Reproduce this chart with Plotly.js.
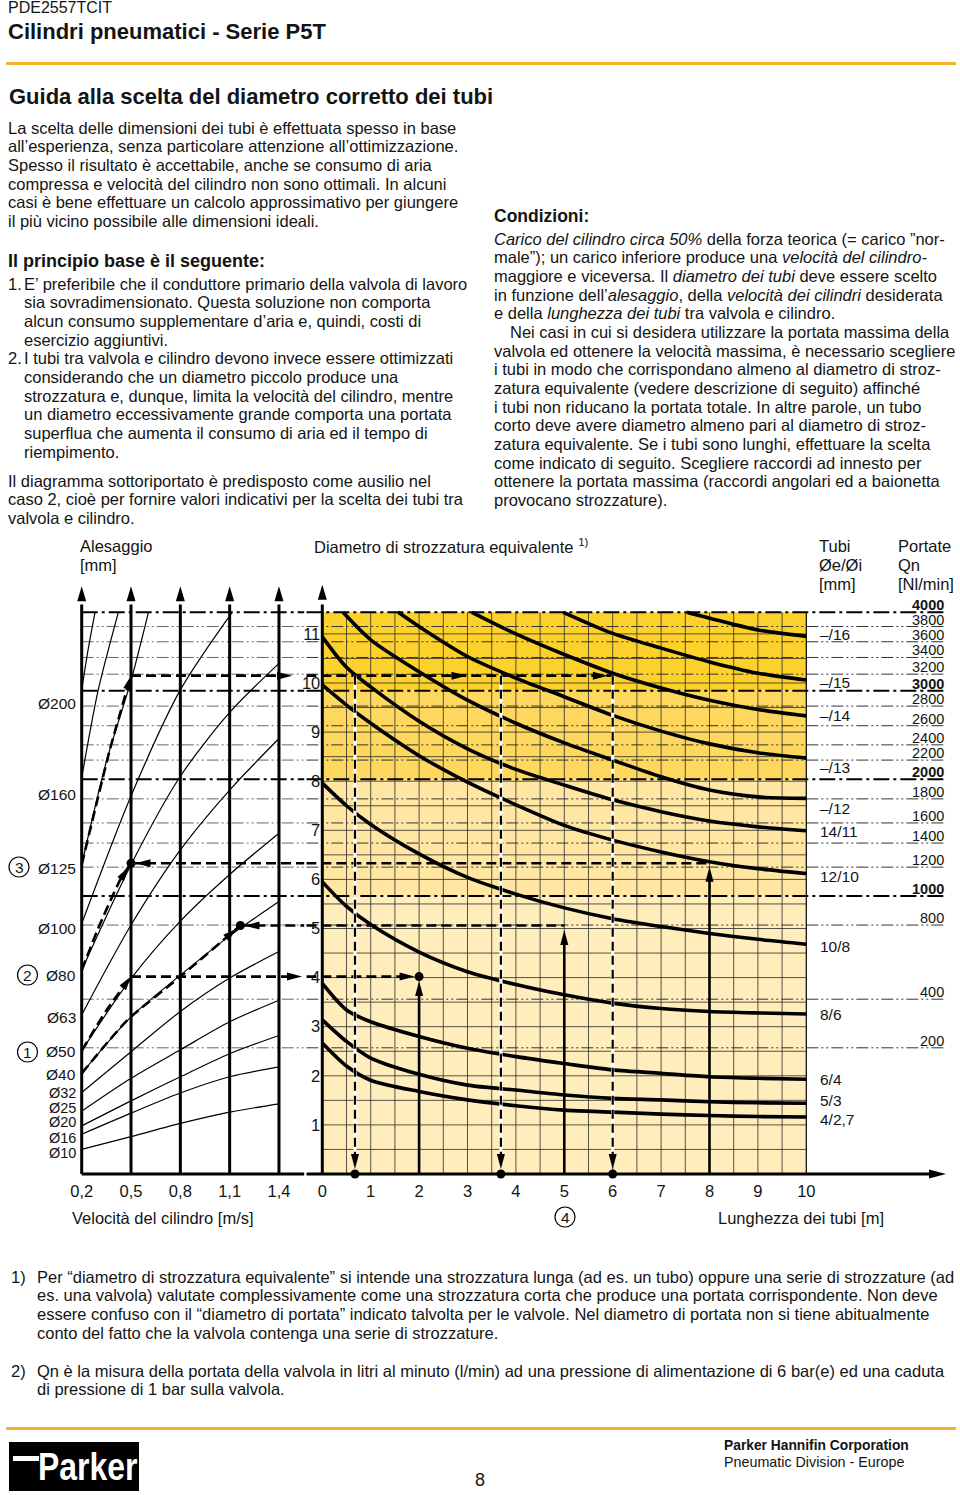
<!DOCTYPE html>
<html lang="it"><head><meta charset="utf-8"><title>Guida alla scelta del diametro corretto dei tubi</title>
<script src="https://cdn.plot.ly/plotly-3.0.1.min.js"></script>
<style>
html,body{margin:0;padding:0;background:#fff}
body{width:960px;height:1495px;position:relative;overflow:hidden;font-family:"Liberation Sans",Arial,Helvetica,sans-serif;color:#141414}
.t{position:absolute;white-space:nowrap;font-size:16.5px;line-height:18.65px}
.b{font-weight:bold}
.rule{position:absolute;left:6px;width:950px;height:3px;background:#F2B22A}
#chart{position:absolute;left:0;top:530px;width:960px;height:710px}
#logo{position:absolute;left:9px;top:1442px;width:130px;height:49px;background:#000;overflow:hidden}
</style></head><body>

<div class="t" style="left:8px;top:0px;font-size:16px;line-height:16px">PDE2557TCIT</div>
<div class="t b" style="left:8px;top:19px;font-size:22px;line-height:26px">Cilindri pneumatici - Serie P5T</div>
<div class="rule" style="top:61.5px"></div>
<div class="t b" style="left:9px;top:84px;font-size:22px;line-height:26px">Guida alla scelta del diametro corretto dei tubi</div>

<div class="t" style="left:8px;top:118.7px">La scelta delle dimensioni dei tubi è effettuata spesso in base<br>all’esperienza, senza particolare attenzione all’ottimizzazione.<br>Spesso il risultato è accettabile, anche se consumo di aria<br>compressa e velocità del cilindro non sono ottimali. In alcuni<br>casi è bene effettuare un calcolo approssimativo per giungere<br>il più vicino possibile alle dimensioni ideali.</div>
<div class="t b" style="left:8px;top:252px;font-size:18px">Il principio base è il seguente:</div>
<div class="t" style="left:8px;top:274.7px">1.</div>
<div class="t" style="left:24px;top:274.7px">E’ preferibile che il conduttore primario della valvola di lavoro<br>sia sovradimensionato. Questa soluzione non comporta<br>alcun consumo supplementare d’aria e, quindi, costi di<br>esercizio aggiuntivi.</div>
<div class="t" style="left:8px;top:349.3px">2.</div>
<div class="t" style="left:24px;top:349.3px">I tubi tra valvola e cilindro devono invece essere ottimizzati<br>considerando che un diametro piccolo produce una<br>strozzatura e, dunque, limita la velocità del cilindro, mentre<br>un diametro eccessivamente grande comporta una portata<br>superflua che aumenta il consumo di aria ed il tempo di<br>riempimento.</div>
<div class="t" style="left:8px;top:471.7px">Il diagramma sottoriportato è predisposto come ausilio nel<br>caso 2, cioè per fornire valori indicativi per la scelta dei tubi tra<br>valvola e cilindro.</div>

<div class="t b" style="left:494px;top:207px;font-size:17.5px">Condizioni:</div>
<div class="t" style="left:494px;top:229.7px"><i>Carico del cilindro circa 50%</i> della forza teorica (= carico ”nor-<br>male”); un carico inferiore produce una <i>velocità del cilindro-</i><br>maggiore e viceversa. Il <i>diametro dei tubi</i> deve essere scelto<br>in funzione dell’<i>alesaggio</i>, della <i>velocità dei cilindri</i> desiderata<br>e della <i>lunghezza dei tubi</i> tra valvola e cilindro.</div>
<div class="t" style="left:494px;top:322.95px;text-indent:16px">Nei casi in cui si desidera utilizzare la portata massima della<br>valvola ed ottenere la velocità massima, è necessario scegliere<br>i tubi in modo che corrispondano almeno al diametro di stroz-<br>zatura equivalente (vedere descrizione di seguito) affinché<br>i tubi non riducano la portata totale. In altre parole, un tubo<br>corto deve avere diametro almeno pari al diametro di stroz-<br>zatura equivalente. Se i tubi sono lunghi, effettuare la scelta<br>come indicato di seguito. Scegliere raccordi ad innesto per<br>ottenere la portata massima (raccordi angolari ed a baionetta<br>provocano strozzature).</div>

<div id="chart"></div>

<div class="t" style="left:11px;top:1267.7px">1)</div>
<div class="t" style="left:37px;top:1267.7px">Per “diametro di strozzatura equivalente” si intende una strozzatura lunga (ad es. un tubo) oppure una serie di strozzature (ad<br>es. una valvola) valutate complessivamente come una strozzatura corta che produce una portata corrispondente. Non deve<br>essere confuso con il “diametro di portata” indicato talvolta per le valvole. Nel diametro di portata non si tiene abitualmente<br>conto del fatto che la valvola contenga una serie di strozzature.</div>
<div class="t" style="left:11px;top:1361.7px">2)</div>
<div class="t" style="left:37px;top:1361.7px">Qn è la misura della portata della valvola in litri al minuto (l/min) ad una pressione di alimentazione di 6 bar(e) ed una caduta<br>di pressione di 1 bar sulla valvola.</div>

<div class="rule" style="top:1426.5px"></div>
<div id="logo"><div style="position:absolute;left:4px;top:14px;width:26px;height:5px;background:#fff"></div><div style="position:absolute;left:29px;top:3px;color:#fff;font-family:'Liberation Sans',Arial,sans-serif;font-weight:bold;font-size:38px;line-height:44px;transform:scaleX(0.84);transform-origin:0 0">Parker</div></div>
<div class="t" style="left:475px;top:1470px;font-size:18px;line-height:20px">8</div>
<div class="t b" style="left:724px;top:1438px;font-size:13.8px;line-height:16px">Parker Hannifin Corporation</div>
<div class="t" style="left:724px;top:1454px;font-size:14.3px;line-height:16px">Pneumatic Division - Europe</div>

<script>
// ===================== DATA =====================
// Left panel: cylinder speed [m/s] vs equivalent restriction diameter [mm]
const velTicks  = [0.2, 0.5, 0.8, 1.1, 1.4];
const velLabels = ['0,2', '0,5', '0,8', '1,1', '1,4'];
// Right panel: tube length [m]
const lenTicks  = [0, 1, 2, 3, 4, 5, 6, 7, 8, 9, 10];
const lenLabels = ['0', '1', '2', '3', '4', '5', '6', '7', '8', '9', '10'];
// Equivalent diameter ticks [mm]
const dTicks = [1, 2, 3, 4, 5, 6, 7, 8, 9, 10, 11];

// Flow rate Qn lines [Nl/min] and their height on the diameter scale
const flowLabels = ['4000','3800','3600','3400','3200','3000','2800','2600','2400','2200','2000','1800','1600','1400','1200','1000','800','400','200'];
const flowD      = [11.44, 11.15, 10.84, 10.52, 10.18, 9.84, 9.53, 9.13, 8.74, 8.43, 8.04, 7.64, 7.15, 6.74, 6.25, 5.66, 5.07, 3.56, 2.57];
const flowMajor  = ['4000', '3000', '2000', '1000'];

// Bore labels and their label heights
const bores      = ['Ø200','Ø160','Ø125','Ø100','Ø80','Ø63','Ø50','Ø40','Ø32','Ø25','Ø20','Ø16','Ø10'];
const boreLabelD = [9.59, 7.72, 6.23, 5.01, 4.05, 3.18, 2.49, 2.02, 1.65, 1.34, 1.06, 0.73, 0.43];

// Bore curves (equivalent diameter at each speed)
const vFull = [0.2, 0.5, 0.8, 1.1, 1.4];
const dB10  = [0.50, 0.76, 1.03, 1.26, 1.43];
const dB16  = [0.81, 1.24, 1.65, 1.98, 2.18];
const dB20  = [0.98, 1.49, 1.98, 2.45, 2.82];
const dB25  = [1.28, 1.95, 2.53, 3.10, 3.54];
const dB32  = [1.66, 2.49, 3.31, 3.99, 4.53];
const dB40  = [2.05, 3.20, 4.05, 4.85, 5.55];
const dB50  = [2.51, 3.98, 5.15, 6.10, 6.94];
const dB63  = [3.24, 5.07, 6.60, 7.82, 8.87];
const dB80  = [4.15, 6.30, 8.10, 9.40, 10.40];
const vB100 = [0.2, 0.5, 0.8, 1.115];  const dB100 = [5.10, 7.70, 9.86, 11.44];
const vB125 = [0.2, 0.35, 0.5, 0.606]; const dB125 = [6.30, 8.40, 10.05, 11.44];
const vB160 = [0.2, 0.3, 0.423];       const dB160 = [8.07, 9.85, 11.44];
const vB200 = [0.2, 0.24, 0.281];      const dB200 = [9.86, 10.70, 11.44];

// Tube curves (equivalent diameter vs tube length)
const tubeNames  = ['–/16','–/15','–/14','–/13','–/12','14/11','12/10','10/8','8/6','6/4','5/3','4/2,7'];
const tubeLabelD = [10.98, 10.02, 9.33, 8.27, 7.45, 6.98, 6.05, 4.64, 3.24, 1.93, 1.49, 1.10];
const L16 = [7.53, 8, 9, 10];                      const d16 = [11.44, 11.32, 11.08, 10.95];
const L15 = [4.98, 6, 7, 8, 9, 10];                const d15 = [11.44, 11.01, 10.71, 10.43, 10.20, 10.06];
const L14 = [3.09, 4, 5, 6, 7, 8, 9, 10];          const d14 = [11.44, 11.00, 10.58, 10.20, 9.90, 9.65, 9.46, 9.33];
const L13 = [1.57, 2, 3, 4, 5, 6, 7, 8, 9, 10];    const d13 = [11.44, 11.15, 10.54, 10.10, 9.72, 9.34, 9.02, 8.76, 8.58, 8.47];
const L12 = [0.43, 1, 2, 3, 4, 5, 6, 7, 8, 9, 10]; const d12 = [11.44, 10.88, 10.23, 9.65, 9.18, 8.78, 8.43, 8.09, 7.82, 7.68, 7.65];
const Lfull  = [0, 0.5, 1, 2, 3, 4, 5, 6, 7, 8, 9, 10];
const d14_11 = [10.94, 10.32, 9.92, 9.22, 8.66, 8.24, 7.92, 7.62, 7.38, 7.19, 7.07, 6.99];
const d12_10 = [9.96, 9.55, 9.18, 8.52, 7.98, 7.52, 7.10, 6.80, 6.56, 6.36, 6.22, 6.12];
const d10_8  = [7.96, 7.50, 7.12, 6.52, 6.04, 5.70, 5.42, 5.20, 5.04, 4.90, 4.78, 4.68];
const d8_6   = [5.95, 5.45, 5.08, 4.52, 4.12, 3.86, 3.65, 3.48, 3.37, 3.31, 3.28, 3.26];
const d6_4   = [3.88, 3.34, 3.10, 2.80, 2.56, 2.39, 2.25, 2.12, 2.05, 1.98, 1.95, 1.93];
const d5_3   = [3.14, 2.70, 2.36, 2.03, 1.81, 1.71, 1.61, 1.54, 1.51, 1.47, 1.45, 1.44];
const d4_27  = [2.67, 2.20, 1.91, 1.68, 1.51, 1.39, 1.30, 1.26, 1.22, 1.19, 1.17, 1.16];

// Worked examples (dashed paths)
const ex1V = [0.2, 0.35, 0.5];          const ex1D = [2.51, 3.33, 4.02];
const ex2V = [0.2, 0.48, 0.8, 1.165];   const ex2D = [2.05, 3.14, 4.02, 5.06];
const ex3V = [0.2, 0.3, 0.434, 0.5];    const ex3D = [4.15, 5.00, 5.99, 6.33];
const ex4V = [0.2, 0.372, 0.5];         const ex4D = [6.30, 8.65, 10.15];
const exLevel     = [4.02, 5.06, 6.33, 10.15]; // horizontal level of examples 1..4
const exLeftStart = [0.5, 1.165, 0.5, 0.5];
const exHeadV     = [1.54, 1.19, 0.527, 1.48];
const exHeadDir   = [1, -1, -1, 1];
const exLenEnd    = [2, 5, 8, 6.0];
const exUpL       = [2, 5, 8];
const exUpTipD    = [3.93, 4.97, 6.26];
const ex4Cuts     = [0.675, 3.69, 6.0];
const ex4HeadsL   = [2.98, 5.9];

// Right-panel grid
const gridL = [0.5,1,1.5,2,2.5,3,3.5,4,4.5,5,5.5,6,6.5,7,7.5,8,8.5,9,9.5];
const gridD = [0.5,1,1.5,2,2.5,3,3.5,4,4.5,5,5.5,6,6.5,7,7.5,8,8.5,9,9.5,10,10.5,11];
const bandColors = ['#FDD12C', '#FDD75E', '#FFE6A3', '#FFEDBC'];
const bandFlows  = ['4000', '3000', '2000', '1000'];

// ===================== GEOMETRY =====================
const CW = 960, CH = 710, TOP = 530;
const Y0 = 1174, SY = 49.1;        // page y of d=0, px per mm
const VX0 = 81.7, SV = 164.4;      // page x of v=0.2, px per m/s
const LX0 = 322.3, SL = 48.4;      // page x of L=0, px per m
const yr = [-0.12, 12.2], xr = [0.15, 1.555], x2r = [-0.33, 12.95];
const ydom  = [(TOP + CH - (Y0 - yr[0]*SY)) / CH, (TOP + CH - (Y0 - yr[1]*SY)) / CH];
const xdom  = [(VX0 + (xr[0]-0.2)*SV) / CW, (VX0 + (xr[1]-0.2)*SV) / CW];
const x2dom = [(LX0 + x2r[0]*SL) / CW, (LX0 + x2r[1]*SL) / CW];
const px = x => x / CW, py = y => (TOP + CH - y) / CH;
const shaftTop = 11.6, tipTop = 11.97;
const axisEndL = (946 - LX0) / SL;
const tubeLabelL = (818 - LX0) / SL;
const FONT = 'Liberation Sans, Arial, Helvetica, sans-serif';
const INK = '#141414';

// ===================== TRACES =====================
const traces = [];
function line(xa, xs, ys, lineOpt, extra) {
  traces.push(Object.assign({type:'scatter', mode:'lines', xaxis:xa, yaxis:'y', x:xs, y:ys,
    hoverinfo:'skip', line:Object.assign({color:'#000', width:1}, lineOpt)}, extra || {}));
}
const DASH = {color:'#000', width:2.6, dash:'10px,5px'};

// left vertical axes
const vx = [], vy = [];
velTicks.forEach(v => { vx.push(v, v, null); vy.push(0, shaftTop, null); });
line('x', vx, vy, {width:3});
line('x', [0.2, xr[1]], [0, 0], {width:3});

// bore curves
[[vB200,dB200],[vB160,dB160],[vB125,dB125],[vB100,dB100],[vFull,dB80],[vFull,dB63],[vFull,dB50],
 [vFull,dB40],[vFull,dB32],[vFull,dB25],[vFull,dB20],[vFull,dB16],[vFull,dB10]]
  .forEach(([v, d]) => line('x', v, d, {width:1.2, shape:'spline', smoothing:0.8}));

// right panel axes
line('x2', [0, 0], [0, shaftTop], {width:3});
line('x2', [10, 10], [0, flowD[0]], {width:1.2});
line('x2', [x2r[0], axisEndL - 0.2], [0, 0], {width:3});

// tube curves
[[L16,d16],[L15,d15],[L14,d14],[L13,d13],[L12,d12],[Lfull,d14_11],[Lfull,d12_10],[Lfull,d10_8],
 [Lfull,d8_6],[Lfull,d6_4],[Lfull,d5_3],[Lfull,d4_27]]
  .forEach(([L, d]) => line('x2', L, d, {width:3.6, shape:'spline', smoothing:0.8}));

// examples: left dashed curves
[[ex1V,ex1D],[ex2V,ex2D],[ex3V,ex3D],[ex4V,ex4D]]
  .forEach(([v, d]) => line('x', v, d, Object.assign({shape:'spline', smoothing:0.6}, DASH)));
// examples: horizontal dashed lines (left and right part)
exLevel.forEach((d, i) => {
  const xEnd = exHeadDir[i] > 0 ? exHeadV[i] - 0.05 : xr[1];
  line('x', [exLeftStart[i], xEnd], [d, d], DASH);
  line('x2', [x2r[0], exLenEnd[i] - (i === 0 ? 0.2 : 0)], [d, d], DASH);
});
// example 4: dashed drop lines
ex4Cuts.forEach(L => {
  line('x2', [L, L], [exLevel[3], 0.3], {color:'#fff', width:3.2});
  line('x2', [L, L], [exLevel[3], 0.3], {color:'#000', width:2.2, dash:'9px,5px'});
});
// examples 1-3: solid up arrows
exUpL.forEach((L, i) => line('x2', [L, L], [0, exUpTipD[i] - 0.25], {width:2.6}));

// dots
traces.push({type:'scatter', mode:'markers', xaxis:'x', yaxis:'y', x:[exLeftStart[2], exLeftStart[1]],
  y:[exLevel[2], exLevel[1]], marker:{color:'#000', size:9}, hoverinfo:'skip'});
traces.push({type:'scatter', mode:'markers', xaxis:'x2', yaxis:'y',
  x:[exLenEnd[0]].concat(ex4Cuts), y:[exLevel[0]].concat(ex4Cuts.map(() => 0)),
  marker:{color:'#000', size:9}, hoverinfo:'skip'});

// ===================== SHAPES =====================
const shapes = [];
// yellow bands
bandFlows.forEach((f, i) => {
  const top = flowD[flowLabels.indexOf(f)];
  const bot = i + 1 < bandFlows.length ? flowD[flowLabels.indexOf(bandFlows[i+1])] : 0;
  shapes.push({type:'rect', xref:'x2', yref:'y', x0:0, x1:10, y0:bot, y1:top, fillcolor:bandColors[i], line:{width:0}, layer:'below'});
});
// grid
gridL.forEach(L => shapes.push({type:'line', xref:'x2', yref:'y', x0:L, x1:L, y0:0, y1:flowD[0], line:{color:'#2a2a2a', width:0.8}, layer:'below'}));
gridD.forEach(d => shapes.push({type:'line', xref:'x2', yref:'y', x0:0, x1:10, y0:d, y1:d, line:{color:'#2a2a2a', width:0.8}, layer:'below'}));
// flow lines
flowLabels.forEach((f, i) => {
  const major = flowMajor.includes(f);
  const lnL = major ? {color:'#000', width:2, dash:'16px,4px,3px,4px'} : {color:'#555', width:0.9, dash:'12px,3px,2px,3px,2px,3px'};
  const lnR = major ? {color:'#000', width:2, dash:'16px,4px,3px,4px'} : {color:'#333', width:1, dash:'12px,3px,2px,3px,2px,3px'};
  shapes.push({type:'line', xref:'x', yref:'y', x0:0.2, x1:xr[1], y0:flowD[i], y1:flowD[i], line:lnL, layer:'below'});
  shapes.push({type:'line', xref:'x2', yref:'y', x0:x2r[0], x1:axisEndL, y0:flowD[i], y1:flowD[i], line:lnR, layer:'below'});
});

// arrow heads
const PXU = {x: SV, x2: SL};
function head(xref, tx, ty, dx, dy, len, wid) {
  const n = Math.hypot(dx, dy), ux = dx / n, uy = dy / n;
  const bx = -len * ux, by = -len * uy, ppx = -uy * wid / 2, ppy = ux * wid / 2;
  const s = PXU[xref];
  const x1 = tx + (bx + ppx) / s, y1 = ty + (by + ppy) / SY;
  const x2 = tx + (bx - ppx) / s, y2 = ty + (by - ppy) / SY;
  shapes.push({type:'path', xref, yref:'y', layer:'above', fillcolor:'#000', line:{width:0},
    path:`M${tx.toFixed(4)},${ty.toFixed(4)}L${x1.toFixed(4)},${y1.toFixed(4)}L${x2.toFixed(4)},${y2.toFixed(4)}Z`});
}
velTicks.forEach(v => head('x', v, tipTop, 0, 1, 15, 9));
head('x2', 0, tipTop + 0.03, 0, 1, 15, 9);
head('x2', axisEndL, 0, 1, 0, 17, 9);
function pathHead(v, d, back) {
  const n = v.length, dx = (v[n-1] - v[n-2]) * SV, dy = (d[n-1] - d[n-2]) * SY, m = Math.hypot(dx, dy);
  head('x', v[n-1] - back * dx / m / SV, d[n-1] - back * dy / m / SY, dx, dy, 14, 8);
}
pathHead(ex1V, ex1D, 0); pathHead(ex2V, ex2D, 5); pathHead(ex3V, ex3D, 5); pathHead(ex4V, ex4D, 0);
exLevel.forEach((d, i) => head('x', exHeadV[i], d, exHeadDir[i], 0, 15, 8));
ex4HeadsL.forEach(L => head('x2', L, exLevel[3], 1, 0, 15, 8));
head('x2', exLenEnd[0] - 0.093, exLevel[0], 1, 0, 15, 8);
exUpL.forEach((L, i) => head('x2', L, exUpTipD[i], 0, 1, 15, 8));
ex4Cuts.forEach(L => head('x2', L, 0.1, 0, -1, 15, 8));

// ===================== ANNOTATIONS =====================
const ann = [];
function txt(text, x, y, xref, yref, xanchor, size, extra) {
  ann.push(Object.assign({text, x, y, xref, yref, xanchor, yanchor:'middle', showarrow:false,
    font:{family:FONT, size, color:INK}}, extra || {}));
}
txt('Alesaggio', px(78), py(546), 'paper', 'paper', 'left', 16.5);
txt('[mm]', px(78), py(565), 'paper', 'paper', 'left', 16.5);
txt('Diametro di strozzatura equivalente <sup>1)</sup>', px(312), py(546), 'paper', 'paper', 'left', 16.5);
txt('Tubi', px(817), py(546), 'paper', 'paper', 'left', 16.5);
txt('Øe/Øi', px(817), py(565), 'paper', 'paper', 'left', 16.5);
txt('[mm]', px(817), py(584), 'paper', 'paper', 'left', 16.5);
txt('Portate', px(896), py(546), 'paper', 'paper', 'left', 16.5);
txt('Qn', px(896), py(565), 'paper', 'paper', 'left', 16.5);
txt('[Nl/min]', px(896), py(584), 'paper', 'paper', 'left', 16.5);
txt('Velocità del cilindro [m/s]', px(70), py(1218), 'paper', 'paper', 'left', 16.5);
txt('Lunghezza dei tubi [m]', px(716), py(1218), 'paper', 'paper', 'left', 16.5);
bores.forEach((b, i) => txt(b, px(77), boreLabelD[i], 'paper', 'y', 'right', i >= 8 ? 14.5 : 15.5, {borderpad:0}));
tubeNames.forEach((t, i) => txt(t, tubeLabelL, tubeLabelD[i], 'x2', 'y', 'left', 15.5));
flowLabels.forEach((f, i) => txt(flowMajor.includes(f) ? '<b>' + f + '</b>' : f, axisEndL, flowD[i], 'x2', 'y', 'right', 14.5, {yshift:7}));
// circled markers
const circ = [['3', 19, 867], ['2', 27.5, 975], ['1', 27.5, 1052], ['4', 565, 1217]];
circ.forEach(([t, cx, cy]) => {
  shapes.push({type:'circle', xref:'paper', yref:'paper', x0:px(cx-10), x1:px(cx+10), y0:py(cy+10), y1:py(cy-10), line:{color:'#000', width:1.2}, layer:'above'});
  txt(t, px(cx), py(cy), 'paper', 'paper', 'center', 15.5);
});

// ===================== LAYOUT =====================
const axCommon = {showgrid:false, zeroline:false, showline:false, ticks:'', fixedrange:true,
  tickfont:{family:FONT, size:16.5, color:INK}};
const layout = {
  width:CW, height:CH, margin:{l:0, r:0, t:0, b:0}, showlegend:false,
  paper_bgcolor:'rgba(0,0,0,0)', plot_bgcolor:'rgba(0,0,0,0)',
  xaxis: Object.assign({}, axCommon, {domain:xdom, range:xr, tickvals:velTicks, ticktext:velLabels, anchor:'y'}),
  xaxis2: Object.assign({}, axCommon, {domain:x2dom, range:x2r, tickvals:lenTicks, ticktext:lenLabels, anchor:'y'}),
  yaxis: Object.assign({}, axCommon, {domain:ydom, range:yr, tickvals:dTicks, ticktext:dTicks.map(String),
    anchor:'free', position:(LX0 - 2) / CW, side:'left'}),
  shapes, annotations:ann
};
Plotly.newPlot('chart', traces, layout, {staticPlot:true, displayModeBar:false});
</script>
</body></html>
